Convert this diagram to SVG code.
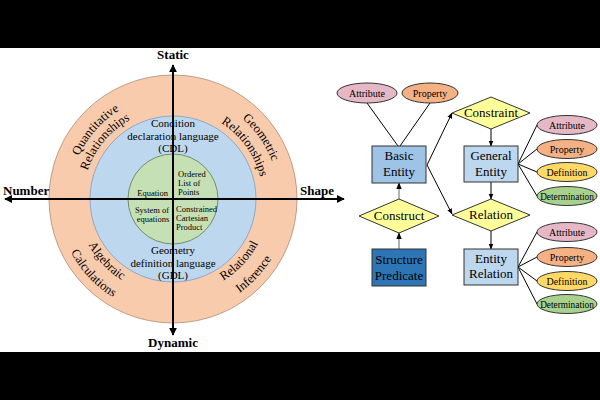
<svg xmlns="http://www.w3.org/2000/svg" width="600" height="400" viewBox="0 0 600 400">
<defs>
<style>
text{font-family:"Liberation Serif","Times New Roman",serif;fill:#000}
.ax{font-weight:bold;font-size:13px}
.ring{font-size:12.5px}
.mid{font-size:11px;text-anchor:middle}
.sm{font-size:8.5px}
.node{font-size:13px;text-anchor:middle}
.ell{font-size:10px;text-anchor:middle}
.axis{stroke:#000;stroke-width:2;fill:none}
.conn{stroke:#000;stroke-width:1;fill:none}
.gconn{stroke:#7f7f7f;stroke-width:1.2;fill:none}
.box{stroke:#333;stroke-width:1}
.dia{fill:#FFFF99;stroke:#333;stroke-width:1}
</style>
<marker id="ah" viewBox="0 0 10 10" refX="9" refY="5" markerWidth="4" markerHeight="4" orient="auto-start-reverse"><path d="M0,0 L10,5 L0,10 z" fill="#000"/></marker>
<marker id="sa" viewBox="0 0 10 10" refX="9" refY="5" markerWidth="6" markerHeight="6" orient="auto"><path d="M0,1 L10,5 L0,9 z" fill="#000"/></marker>
<path id="q1" d="M74.9,232.2 A104,104 0 0 1 194.6,97.3"/>
<path id="q2" d="M88.4,229.8 A90,90 0 0 1 188.6,110.4"/>
<path id="g1" d="M163.8,93.4 A106,106 0 0 1 269.1,243.8"/>
<path id="g2" d="M163.6,109.5 A90,90 0 0 1 255.2,235.6"/>
<path id="a1" d="M81.2,170.9 A96,96 0 0 0 194.6,292.5"/>
<path id="a2" d="M63,165.3 A115,115 0 0 0 198.9,311"/>
<path id="r1" d="M151.4,292.5 A96,96 0 0 0 264.8,170.9"/>
<path id="r2" d="M147.1,311 A115,115 0 0 0 283,165.3"/>
</defs>
<rect width="600" height="400" fill="#fff"/>
<rect x="0" y="0" width="600" height="48" fill="#000"/>
<rect x="0" y="352" width="600" height="48" fill="#000"/>

<g id="rings">
<circle cx="173" cy="199" r="124" fill="#F8CBAD" stroke="#B08A70" stroke-width="0.8"/>
<circle cx="173" cy="199" r="83" fill="#BDD7EE" stroke="#7F9DBF" stroke-width="0.8"/>
<circle cx="173" cy="199" r="45" fill="#C5E0B4" stroke="#5E7A4E" stroke-width="0.8"/>
</g>
<g id="axes">
<line class="axis" x1="5" y1="199" x2="344" y2="199" marker-start="url(#ah)" marker-end="url(#ah)"/>
<line class="axis" x1="173" y1="65" x2="173" y2="335" marker-start="url(#ah)" marker-end="url(#ah)"/>
<text class="ax" x="173" y="59" text-anchor="middle">Static</text>
<text class="ax" x="173" y="347" text-anchor="middle">Dynamic</text>
<text class="ax" x="3" y="195">Number</text>
<text class="ax" x="300" y="195">Shape</text>
</g>
<g id="ring-labels" class="ring">
<text><textPath href="#q1" startOffset="50%" text-anchor="middle">Quantitative</textPath></text>
<text><textPath href="#q2" startOffset="50%" text-anchor="middle">Relationships</textPath></text>
<text><textPath href="#g1" startOffset="50%" text-anchor="middle">Geometric</textPath></text>
<text><textPath href="#g2" startOffset="50%" text-anchor="middle">Relationships</textPath></text>
<text><textPath href="#a1" startOffset="50%" text-anchor="middle">Algebraic</textPath></text>
<text><textPath href="#a2" startOffset="50%" text-anchor="middle">Calculations</textPath></text>
<text><textPath href="#r1" startOffset="50%" text-anchor="middle">Relational</textPath></text>
<text><textPath href="#r2" startOffset="50%" text-anchor="middle">Inference</textPath></text>
</g>
<g id="cdl">
<text class="mid" x="173" y="127">Condition</text>
<text class="mid" x="173" y="140">declaration language</text>
<text class="mid" x="173" y="152">(CDL)</text>
</g>
<g id="gdl">
<text class="mid" x="173" y="254">Geometry</text>
<text class="mid" x="173" y="267">definition language</text>
<text class="mid" x="173" y="279">(GDL)</text>
</g>
<g id="inner">
<text class="sm" x="168" y="196" text-anchor="end">Equation</text>
<text class="sm" x="178" y="177">Ordered</text>
<text class="sm" x="178" y="186">List of</text>
<text class="sm" x="178" y="195">Points</text>
<text class="sm" x="152" y="213" text-anchor="middle">System of</text>
<text class="sm" x="153" y="222" text-anchor="middle">equations</text>
<text class="sm" x="176" y="212">Constrained</text>
<text class="sm" x="176" y="221">Cartesian</text>
<text class="sm" x="176" y="230">Product</text>
</g>

<g id="connectors">
<line class="conn" x1="367" y1="103" x2="398" y2="146"/>
<line class="conn" x1="430" y1="103" x2="400" y2="146"/>
<line class="conn" x1="427" y1="165" x2="452" y2="113" marker-end="url(#sa)"/>
<line class="conn" x1="427" y1="165" x2="452" y2="214" marker-end="url(#sa)"/>
<line class="conn" x1="491" y1="129" x2="491" y2="146" marker-end="url(#sa)"/>
<line class="conn" x1="491" y1="182" x2="491" y2="199" marker-end="url(#sa)"/>
<line class="conn" x1="491" y1="231" x2="491" y2="249" marker-end="url(#sa)"/>
<line class="gconn" x1="399" y1="249" x2="399" y2="233" marker-end="url(#sa)"/>
<line class="gconn" x1="399" y1="199" x2="399" y2="183" marker-end="url(#sa)"/>
<line class="conn" x1="518" y1="164" x2="537" y2="125"/>
<line class="conn" x1="518" y1="164" x2="537" y2="149"/>
<line class="conn" x1="518" y1="164" x2="537" y2="172"/>
<line class="conn" x1="518" y1="164" x2="537" y2="196"/>
<line class="conn" x1="518" y1="267" x2="537" y2="232"/>
<line class="conn" x1="518" y1="267" x2="537" y2="257"/>
<line class="conn" x1="518" y1="267" x2="537" y2="281"/>
<line class="conn" x1="518" y1="267" x2="537" y2="304"/>
</g>

<g id="attr-top"><ellipse cx="367" cy="93" rx="30" ry="10" fill="#E6B8C6" stroke="#333"/><text class="ell" x="367" y="97">Attribute</text></g>
<g id="prop-top"><ellipse cx="430" cy="93" rx="28" ry="10" fill="#F4B183" stroke="#333"/><text class="ell" x="430" y="97">Property</text></g>
<g id="basic-entity"><rect class="box" x="372" y="146" width="54" height="37" fill="#9DC3E6"/><text class="node" x="399" y="160">Basic</text><text class="node" x="399" y="176">Entity</text></g>
<g id="constraint"><polygon class="dia" points="452,113 491,97 530,113 491,129"/><text class="node" x="491" y="117">Constraint</text></g>
<g id="general-entity"><rect class="box" x="464" y="146" width="54" height="36" fill="#BDD7EE"/><text class="node" x="491" y="160">General</text><text class="node" x="491" y="176">Entity</text></g>
<g id="relation"><polygon class="dia" points="452,215 491,199 530,215 491,231"/><text class="node" x="491" y="219">Relation</text></g>
<g id="entity-relation"><rect class="box" x="464" y="249" width="54" height="36" fill="#BDD7EE"/><text class="node" x="491" y="263">Entity</text><text class="node" x="491" y="278">Relation</text></g>
<g id="construct"><polygon class="dia" points="359,216 399,199 439,216 399,233"/><text class="node" x="399" y="220">Construct</text></g>
<g id="structure-predicate"><rect class="box" x="372" y="249" width="54" height="37" fill="#2E75B6"/><text class="node" x="399" y="264">Structure</text><text class="node" x="399" y="280">Predicate</text></g>

<g id="ge-attr"><ellipse cx="567" cy="125" rx="30" ry="9.5" fill="#E6B8C6" stroke="#333"/><text class="ell" x="567" y="129">Attribute</text></g>
<g id="ge-prop"><ellipse cx="567" cy="149" rx="30" ry="9.5" fill="#F4B183" stroke="#333"/><text class="ell" x="567" y="153">Property</text></g>
<g id="ge-def"><ellipse cx="567" cy="172" rx="30" ry="9.5" fill="#FFD966" stroke="#333"/><text class="ell" x="567" y="176">Definition</text></g>
<g id="ge-det"><ellipse cx="567" cy="196" rx="30" ry="9.5" fill="#A9D18E" stroke="#333"/><text class="ell" x="567" y="199.5" style="font-size:9.3px">Determination</text></g>

<g id="er-attr"><ellipse cx="567" cy="232" rx="30" ry="9.5" fill="#E6B8C6" stroke="#333"/><text class="ell" x="567" y="236">Attribute</text></g>
<g id="er-prop"><ellipse cx="567" cy="257" rx="30" ry="9.5" fill="#F4B183" stroke="#333"/><text class="ell" x="567" y="261">Property</text></g>
<g id="er-def"><ellipse cx="567" cy="281" rx="30" ry="9.5" fill="#FFD966" stroke="#333"/><text class="ell" x="567" y="285">Definition</text></g>
<g id="er-det"><ellipse cx="567" cy="304" rx="30" ry="9.5" fill="#A9D18E" stroke="#333"/><text class="ell" x="567" y="307.5" style="font-size:9.3px">Determination</text></g>
</svg>
